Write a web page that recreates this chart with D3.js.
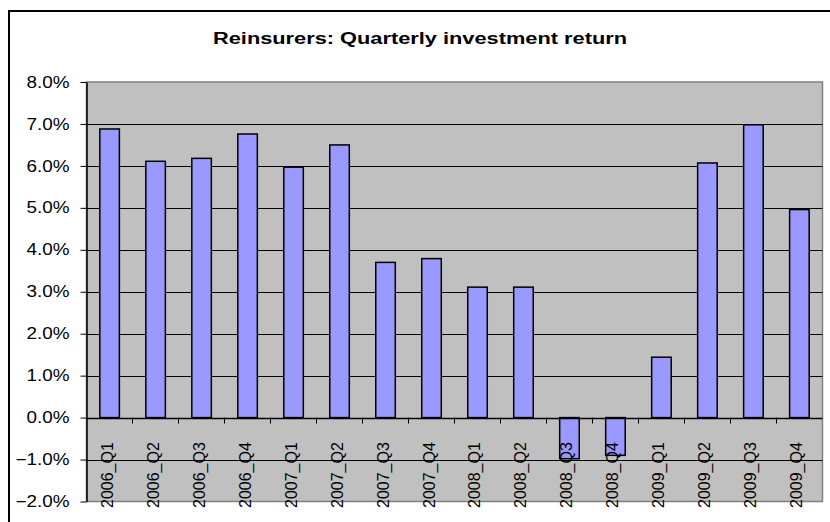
<!DOCTYPE html>
<html lang="en">
<head>
  <meta charset="UTF-8">
  <title>Reinsurers: Quarterly investment return</title>
  <script src="https://cdn.jsdelivr.net/npm/d3@7"></script>
  <style type="text/css">
    body { margin: 0; background: white; }
    svg { display: block; }
    text { font-family: "Liberation Sans", Arial, sans-serif; fill: black; }
  </style>
</head>
<body>
<svg id="chart" width="830" height="522"></svg>
<script>

  const quarters = ['2006_Q1','2006_Q2','2006_Q3','2006_Q4',
                    '2007_Q1','2007_Q2','2007_Q3','2007_Q4',
                    '2008_Q1','2008_Q2','2008_Q3','2008_Q4',
                    '2009_Q1','2009_Q2','2009_Q3','2009_Q4'];
  const returns = [6.88, 6.11, 6.18, 6.76, 5.97, 6.50, 3.70, 3.79,
                   3.11, 3.11, -0.98, -0.90, 1.44, 6.07, 6.98, 4.96];
  const yTicks = [-2, -1, 0, 1, 2, 3, 4, 5, 6, 7, 8];
  const titleText = 'Reinsurers: Quarterly investment return';

  const plot = {left: 86.5, right: 822.5, top: 82, bottom: 501.5};

  const svg = d3.select('#chart');

  // outer chart frame, runs off the right and bottom edge
  svg.append('rect').attr('x', 9).attr('y', 11).attr('width', 840).attr('height', 540)
    .attr('fill', 'white').attr('stroke', 'black').attr('stroke-width', 2);

  const title = svg.append('text').attr('x', 420).attr('y', 44)
    .attr('text-anchor', 'middle').style('font-size', '16px').style('font-weight', 'bold')
    .text(titleText);
  title.attr('textLength', 414).attr('lengthAdjust', 'spacingAndGlyphs');

  const x = d3.scaleBand().domain(quarters).range([plot.left, plot.right])
    .paddingInner(0.575).paddingOuter(0.29);
  const y = d3.scaleLinear().domain([-2, 8]).range([plot.bottom, plot.top]);

  // plot area
  svg.append('rect').attr('x', plot.left).attr('y', plot.top)
    .attr('width', plot.right - plot.left).attr('height', plot.bottom - plot.top)
    .attr('fill', '#c0c0c0').attr('stroke', '#808080').attr('stroke-width', 1.5);

  // gridlines
  svg.append('g').selectAll('line').data(yTicks.filter(d => d > -2 && d < 8 && d !== 0))
    .join('line')
    .attr('x1', plot.left).attr('x2', plot.right)
    .attr('y1', d => Math.round(y(d)) + 0.5).attr('y2', d => Math.round(y(d)) + 0.5)
    .attr('stroke', 'black').attr('stroke-width', 1);

  // bars
  svg.append('g').selectAll('rect').data(returns).join('rect')
    .attr('x', (d, i) => x(quarters[i]))
    .attr('width', x.bandwidth())
    .attr('y', d => y(Math.max(d, 0)))
    .attr('height', d => Math.abs(y(d) - y(0)))
    .attr('fill', '#9999ff').attr('stroke', 'black').attr('stroke-width', 1.5);

  // y axis
  const yAxis = svg.append('g').attr('transform', `translate(${plot.left},0)`)
    .call(d3.axisLeft(y).tickValues(yTicks).tickSize(6).tickSizeOuter(0)
      .tickFormat(d => d3.format('.1f')(d) + '%'));
  yAxis.select('.domain').attr('stroke', 'black').attr('stroke-width', 1.5);
  yAxis.selectAll('line').attr('stroke', 'black');
  yAxis.selectAll('text').attr('x', -17).attr('dy', '0.32em')
    .style('font-size', '16px').style('font-family', '"Liberation Sans", Arial, sans-serif')
    .each(function() {
      const w = this.getComputedTextLength();
      d3.select(this).attr('textLength', w * 1.18).attr('lengthAdjust', 'spacingAndGlyphs');
    });

  // x axis along zero, ticks at category boundaries
  const bounds = d3.range(quarters.length + 1).map(i => plot.left + i * x.step() - (i === 0 ? 0 : 0));
  const step = (plot.right - plot.left) / quarters.length;
  const xAxis = svg.append('g');
  xAxis.append('line').attr('x1', plot.left).attr('x2', plot.right)
    .attr('y1', Math.round(y(0)) + 0.5).attr('y2', Math.round(y(0)) + 0.5)
    .attr('stroke', 'black').attr('stroke-width', 1.5);
  xAxis.selectAll('line.tick').data(d3.range(1, quarters.length)).join('line')
    .attr('class', 'tick')
    .attr('x1', i => plot.left + i * step).attr('x2', i => plot.left + i * step)
    .attr('y1', y(0)).attr('y2', y(0) + 6)
    .attr('stroke', 'black').attr('stroke-width', 1);

  xAxis.selectAll('text').data(quarters).join('text')
    .attr('transform', d => `translate(${x(d) + x.bandwidth() / 2 + 3},508) rotate(-90)`)
    .attr('text-anchor', 'start')
    .style('font-size', '16px')
    .text(d => d);

</script>
</body>
</html>
